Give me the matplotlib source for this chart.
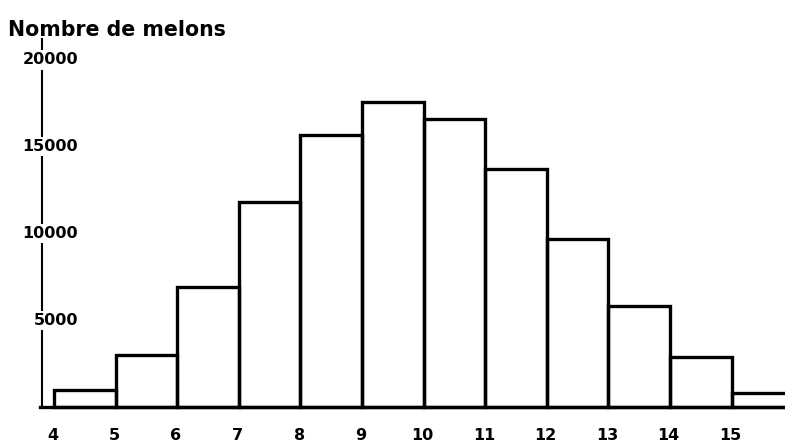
import matplotlib
matplotlib.use('Agg')
import matplotlib.pyplot as plt
import matplotlib.transforms as mtransforms

# données : poids (classes) et nombre de melons
classes = [4, 5, 6, 7, 8, 9, 10, 11, 12, 13, 14, 15]
effectifs = [1000, 3000, 6900, 11800, 15700, 17600, 16600, 13700, 9700, 5800, 2900, 800]
yticks = [5000, 10000, 15000, 20000]
title = 'Nombre de melons'

W, H = 785, 445
fig = plt.figure(figsize=(W / 100, H / 100), dpi=100)
ax = fig.add_axes([0, 0, 1, 1])
ax.set_axis_off()

# échelle: 61.6 px par classe, 17.35 px par 1000 melons
px_x = 61.6
px_y = 17.35 / 1000
x0 = 4 - 54 / px_x
ax.set_xlim(x0, x0 + W / px_x)
ax.set_ylim(-(H - 407) / px_y, 407 / px_y)

# barres de l'histogramme
ax.bar(classes, effectifs, width=1, align='edge', fill=False,
       edgecolor='black', linewidth=2.4, zorder=2)

# axes dessinés à la main
xaxis = x0 + 42 / px_x
ax.plot([xaxis, xaxis], [0, 21200], color='black', linewidth=1.5, zorder=1)
ax.axhline(0, xmin=40 / W, xmax=1, color='black', linewidth=2.4, zorder=3)

font = dict(family='DejaVu Sans', weight='bold')

# graduations de l'axe vertical (le texte coupe la ligne)
trans_y = mtransforms.blended_transform_factory(fig.transFigure, ax.transData)
for v in yticks:
    ax.text(78 / W, v, str(v), transform=trans_y, ha='right', va='center',
            fontsize=11.5, zorder=4,
            bbox=dict(facecolor='white', edgecolor='none', pad=1.5), **font)

# graduations de l'axe horizontal
for c in classes:
    ax.text(c - 0.02, -(435 - 407) / px_y, str(c), ha='center', va='center',
            fontsize=11.5, **font)

fig.text(8 / W, 1 - 30 / H, title, ha='left', va='center', fontsize=14.8, **font)

plt.savefig('out.png', dpi=100)
